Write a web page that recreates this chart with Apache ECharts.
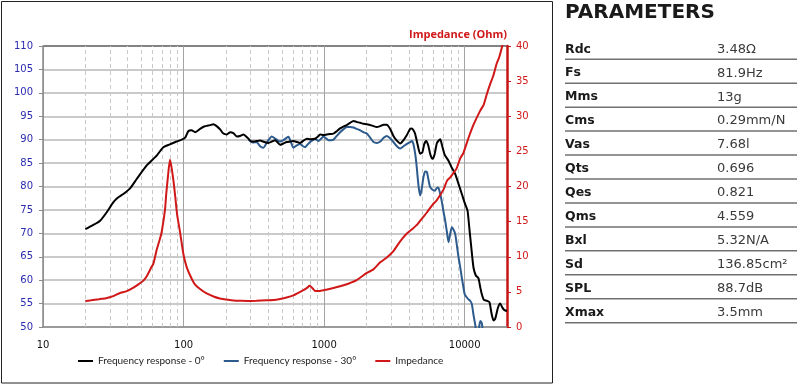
<!DOCTYPE html>
<html>
<head>
<meta charset="utf-8">
<script src="https://cdn.jsdelivr.net/npm/echarts@6/dist/echarts.min.js"></script>
<style>
html,body{margin:0;padding:0;background:#fff;}
#c{width:797px;height:385px;}
</style>
</head>
<body>
<div id="c"></div>
<script>
// ---- Data ----
const freq0 = [20,22.5,25.5,28.4,31.6,34,37.3,41.6,46.4,54.7,64.4,71.8,80,89,97,103,108,114,121,131,140,154,163,172,182,192,203,215,226,239,252,267,285,305,330,350,375,402,425,448,486,515,542,575,604,640,674,713,753,800,863,900,936,990,1044,1100,1165,1230,1299,1370,1449,1530,1617,1700,1804,1900,2013,2200,2371,2506,2650,2794,2950,3111,3290,3475,3650,3880,4093,4207,4320,4443,4620,4822,5000,5150,5318,5500,5700,5902,6100,6350,6694,6900,7200,7673,8100,8557,9050,9545,10000,10470,10800,11100,11550,12000,12530,12900,13240,13700,14380,15000,15500,16030,16500,17200,17900,18500,19200,20000];
const spl0 = [70.9,71.7,72.7,74.5,76.6,77.6,78.4,79.6,81.6,84.5,86.6,88.4,89.0,89.6,90.0,90.5,91.8,92.0,91.6,92.3,92.8,93.1,93.3,92.9,92.2,91.3,91.1,91.6,91.4,90.7,90.8,91.1,90.4,89.6,89.7,89.8,89.5,89.3,89.6,89.9,88.9,89.2,89.5,89.6,89.7,89.5,89.3,89.8,90.2,90.1,90.2,90.6,91.1,91.0,91.1,91.2,91.3,91.8,92.4,92.8,93.1,93.6,94.0,93.8,93.6,93.4,93.3,93.0,92.7,92.9,93.2,93.2,92.3,90.8,89.8,89.2,89.8,91.0,92.3,92.4,92.0,91.2,89.0,87.0,87.3,89.0,89.7,88.8,86.8,85.9,86.8,89.3,90.1,88.8,86.8,85.5,84.0,82.7,80.5,78.4,76.5,74.9,71,67.5,62.7,61.0,60.4,58.5,57.0,55.8,55.6,55.3,53,51.4,51.8,54,55.0,54.2,53.6,53.4];

const freq30 = [290,310,331,350,370,395,424,445,460,485,513,557,580,604,640,674,700,733,765,795,830,863,890,912,950,989,1030,1074,1120,1165,1230,1299,1370,1449,1530,1617,1700,1804,1900,2013,2130,2244,2371,2506,2650,2794,2950,3111,3290,3475,3680,3880,4093,4207,4320,4443,4530,4605,4700,4822,4950,5096,5240,5382,5520,5673,5900,6140,6300,6484,6690,6890,7080,7266,7480,7673,7900,8110,8330,8557,8800,9040,9290,9545,9780,10000,10300,10640,10940,11240,11550,11870,12200,12530,12900,13240,13500,13800];
const spl30 = [90.0,89.4,89.5,88.6,88.3,89.6,90.7,90.3,90.0,89.6,89.9,90.6,89.5,88.3,88.8,89.1,88.7,88.4,89.0,89.5,89.9,90.2,89.9,89.7,90.2,90.7,90.3,89.9,89.9,90.0,90.8,91.6,92.2,92.7,92.7,92.6,92.3,92.0,91.6,91.3,90.4,89.5,89.3,89.6,90.4,90.8,90.3,89.5,88.6,88.1,88.6,89.1,89.5,89.7,89.0,87.0,85.0,82.7,80.0,78.1,79.5,82.1,83.2,83.1,81.5,79.9,79.3,79.1,79.6,79.8,78.5,76.6,74.5,72.7,70.2,68.1,70.0,71.3,70.8,69.9,67.4,64.9,62.8,60.5,58.6,57.0,56.4,55.9,55.6,54.9,52.6,50.6,48.5,49.0,51.3,50.8,48.5,47];

const freqZ = [20,22,25,28,31.6,35,39.4,44,48,51.8,55,59,61,64.4,68,70,73.8,75.2,77.5,80,82,84.5,87,90,94.4,99.7,105,111,120,131,146,165,181,200,226,260,282,330,390,437,486,540,604,660,713,760,785,810,840,863,936,1050,1165,1299,1500,1705,2013,2244,2506,2794,3111,3475,3880,4270,4605,4900,5382,5900,6300,6694,7080,7480,7887,8300,8730,9293,9800,10640,11560,12900,13620,14400,15200,16000,16900,17600,18500,19200,20000];
const imp = [3.7,3.8,3.95,4.1,4.4,4.8,5.1,5.6,6.1,6.6,7.3,8.5,9.0,11.0,12.6,13.6,16.7,18.8,21.5,23.8,22.8,21,18.8,16,13.5,10.4,8.6,7.4,6.1,5.4,4.77,4.3,4.06,3.9,3.78,3.72,3.7,3.73,3.8,3.85,4.0,4.2,4.5,4.9,5.24,5.6,5.86,5.7,5.35,5.14,5.14,5.35,5.55,5.8,6.2,6.67,7.7,8.2,9.2,9.9,10.8,12.2,13.3,14.0,14.6,15.3,16.3,17.4,18.0,18.8,19.6,20.8,21.3,21.9,22.5,24.0,24.8,26.9,28.8,30.8,31.6,33.2,34.6,35.8,37.5,38.4,40.0,41.5,43];

const minorFreqs = [20,30,40,50,60,70,80,90,200,300,400,500,600,700,800,900,2000,3000,4000,5000,6000,7000,8000,9000];

const seriesNames = ['Frequency response - 0°','Frequency response - 30°','Impedance'];
const impTitle = 'Impedance (Ohm)';

const paramTitle = 'PARAMETERS';
const paramNames = ['Rdc','Fs','Mms','Cms','Vas','Qts','Qes','Qms','Bxl','Sd','SPL','Xmax'];
const paramValues = ['3.48Ω','81.9Hz','13g','0.29mm/N','7.68l','0.696','0.821','4.559','5.32N/A','136.85cm²','88.7dB','3.5mm'];

// ---- Chart ----
const chart = echarts.init(document.getElementById('c'), null, {renderer:'canvas'});
const pair = (xs, ys) => xs.map((x,i)=>[x, ys[i]]);

const gridColors = [];
for (let i=0;i<12;i++) gridColors.push('#b9b9b9');
gridColors.push('#5a5a5a');

const graphics = [
  {type:'rect', shape:{x:1.5,y:1.5,width:551,height:381.5}, style:{fill:'none',stroke:'#222',lineWidth:1}, z:0, silent:true},
  {type:'text', x:565, y:13, style:{text:paramTitle, font:'bold 20px "DejaVu Sans"', fill:'#1a1a1a', textVerticalAlign:'middle', textAlign:'left'}},
];
paramNames.forEach((n,i)=>{
  const lineY = 59.3 + 23.94*i;
  graphics.push({type:'text', x:565, y:lineY-10, style:{text:n, font:'bold 12.5px "DejaVu Sans"', fill:'#1a1a1a', textVerticalAlign:'middle'}});
  graphics.push({type:'text', x:717, y:lineY-10, style:{text:paramValues[i], font:'13px "DejaVu Sans"', fill:'#3a3a3a', textVerticalAlign:'middle'}});
  graphics.push({type:'line', shape:{x1:565,y1:lineY,x2:797,y2:lineY}, style:{stroke:'#707070', lineWidth:1.5}});
});

chart.setOption({
  animation:false,
  backgroundColor:'#fff',
  grid:{left:43, right:290, top:46, bottom:58},
  legend:{
    data:seriesNames.map(n=>({name:n, icon:'rect'})),
    left:78, top:356, padding:0, itemWidth:15, itemHeight:2, itemGap:19,
    textStyle:{fontFamily:'Lato', fontSize:10, color:'#222'}
  },
  xAxis:{
    type:'log', logBase:10, min:10, max:20000,
    axisLine:{lineStyle:{color:'#8a8a8a', width:1.5}},
    axisTick:{show:false},
    axisLabel:{margin:13, color:'#111', fontFamily:'DejaVu Sans', fontSize:10, showMaxLabel:false,
      formatter:v=>{const l=Math.log10(v); return Math.abs(l-Math.round(l))<1e-6 ? String(Math.round(v)) : '';}},
    splitLine:{show:true, lineStyle:{color:'#a3a3a3', width:1}}
  },
  yAxis:[
    {type:'value', min:50, max:110, interval:5, position:'left',
      axisLine:{show:true, lineStyle:{color:'#8a8a8a', width:1.5}},
      axisTick:{show:true, length:4, lineStyle:{color:'#8a8a8a'}},
      axisLabel:{margin:10, color:'#2b2bb0', fontFamily:'DejaVu Sans', fontSize:10},
      splitLine:{show:true, lineStyle:{color:gridColors, width:1.5}}
    },
    {type:'value', min:0, max:40, interval:5, position:'right',
      name:impTitle, nameLocation:'end', nameGap:6,
      nameTextStyle:{color:'#d01818', fontWeight:'bold', fontFamily:'Open Sans', fontSize:11, align:'right', verticalAlign:'bottom'},
      axisLine:{show:true, lineStyle:{color:'#c81414', width:2.5}},
      axisTick:{show:true, length:4, lineStyle:{color:'#c81414'}},
      axisLabel:{margin:9, color:'#d01818', fontFamily:'DejaVu Sans', fontSize:10},
      splitLine:{show:false}
    }
  ],
  graphic:graphics,
  series:[
    {name:seriesNames[0], type:'line', data:pair(freq0, spl0), yAxisIndex:0, showSymbol:false, symbol:'none', smooth:0.2, z:4,
      color:'#000', lineStyle:{color:'#000', width:2}},
    {name:seriesNames[1], type:'line', data:pair(freq30, spl30), yAxisIndex:0, showSymbol:false, symbol:'none', smooth:0.2, z:3,
      color:'#2d5b8e', lineStyle:{color:'#2d5b8e', width:2}},
    {name:seriesNames[2], type:'line', data:pair(freqZ, imp), yAxisIndex:1, showSymbol:false, symbol:'none', smooth:0.2, z:5,
      color:'#d01818', lineStyle:{color:'#d01818', width:2}},
    {name:'grid-minor', type:'line', data:[], yAxisIndex:0, silent:true,
      markLine:{silent:true, symbol:'none', z:1, animation:false, label:{show:false},
        lineStyle:{color:'#c9c9c9', type:[4,3], width:1},
        emphasis:{disabled:true},
        data:minorFreqs.map(f=>({xAxis:f}))}}
  ]
});
</script>
</body>
</html>
